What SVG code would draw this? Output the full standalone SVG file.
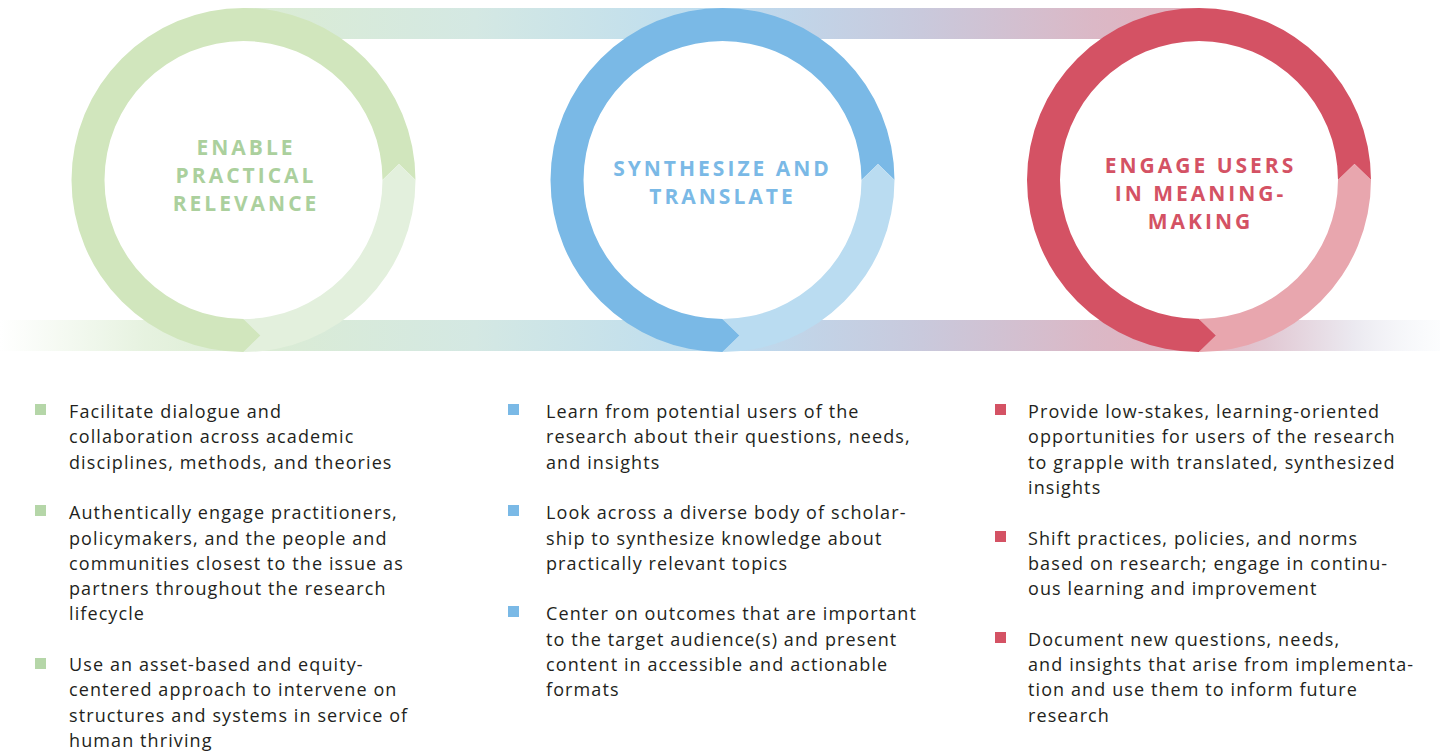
<svg xmlns="http://www.w3.org/2000/svg" width="1440" height="751" viewBox="0 0 1440 751">
<defs>
<linearGradient id="band" gradientUnits="userSpaceOnUse" x1="0" y1="0" x2="1440" y2="0">
<stop offset="0" stop-color="#e2f0da" stop-opacity="0"/>
<stop offset="0.1" stop-color="#e0efd8" stop-opacity="0.8"/>
<stop offset="0.17" stop-color="#dbecd3"/>
<stop offset="0.33" stop-color="#d4e8e3"/>
<stop offset="0.5" stop-color="#bcdcf0"/>
<stop offset="0.64" stop-color="#c9c9dc"/>
<stop offset="0.76" stop-color="#dbb8c6"/>
<stop offset="0.83" stop-color="#e2b2be"/>
<stop offset="0.88" stop-color="#e1c8d3"/>
<stop offset="0.94" stop-color="#ebe9f0"/>
<stop offset="1" stop-color="#f6f9fc" stop-opacity="0.4"/>
</linearGradient>
<style>
.head{font-family:"Open Sans","Liberation Sans",sans-serif;font-weight:700;font-size:21px;letter-spacing:3px;text-anchor:middle}
.body{font-family:"Open Sans","Liberation Sans",sans-serif;font-size:18px;letter-spacing:1.1px;fill:#231f20}
.g{fill:#abd09d}.b{fill:#7ab9e6}.r{fill:#d45264}
.gb{fill:#b5d6a8}
</style>
</defs>
<g id="connectors">
<rect x="243" y="8" width="956" height="31" fill="url(#band)"/>
<rect x="0" y="320" width="1440" height="31" fill="url(#band)"/>
</g>
<g id="node-enable">
<path d="M415.5,180 A172,172 0 1 0 243.5,352 L260.5,335.5 L243.5,319 A139,139 0 1 1 382.5,180 L399,164 Z" fill="#d1e6bd"/>
<path d="M415.5,180 A172,172 0 0 1 243.5,352 L260.5,335.5 L243.5,319 A139,139 0 0 0 382.5,180 L399,164 Z" fill="#e3f0dd"/>
<text class="head g" x="246" y="155">ENABLE</text>
<text class="head g" x="246" y="183">PRACTICAL</text>
<text class="head g" x="246" y="211">RELEVANCE</text>
</g>
<g id="node-synthesize">
<path d="M894.5,180 A172,172 0 1 0 722.5,352 L739.5,335.5 L722.5,319 A139,139 0 1 1 861.5,180 L878,164 Z" fill="#7ab9e6"/>
<path d="M894.5,180 A172,172 0 0 1 722.5,352 L739.5,335.5 L722.5,319 A139,139 0 0 0 861.5,180 L878,164 Z" fill="#badcf1"/>
<text class="head b" x="722.5" y="176">SYNTHESIZE AND</text>
<text class="head b" x="722.5" y="204">TRANSLATE</text>
</g>
<g id="node-engage">
<path d="M1371,180 A172,172 0 1 0 1199,352 L1216,335.5 L1199,319 A139,139 0 1 1 1338,180 L1354.5,164 Z" fill="#d45264"/>
<path d="M1371,180 A172,172 0 0 1 1199,352 L1216,335.5 L1199,319 A139,139 0 0 0 1338,180 L1354.5,164 Z" fill="#e8a6ae"/>
<text class="head r" x="1200.5" y="173">ENGAGE USERS</text>
<text class="head r" x="1200.5" y="201">IN MEANING-</text>
<text class="head r" x="1200.5" y="229">MAKING</text>
</g>
<g id="list-enable">
<rect class="gb" x="35" y="404" width="11" height="11"/>
<rect class="gb" x="35" y="505" width="11" height="11"/>
<rect class="gb" x="35" y="658" width="11" height="11"/>
<text class="body"><tspan x="69" y="418">Facilitate dialogue and</tspan><tspan x="69" y="443.3">collaboration across academic</tspan><tspan x="69" y="468.6">disciplines, methods, and theories</tspan></text>
<text class="body"><tspan x="69" y="519.2">Authentically engage practitioners,</tspan><tspan x="69" y="544.5">policymakers, and the people and</tspan><tspan x="69" y="569.8">communities closest to the issue as</tspan><tspan x="69" y="595.1">partners throughout the research</tspan><tspan x="69" y="620.4">lifecycle</tspan></text>
<text class="body"><tspan x="69" y="671">Use an asset-based and equity-</tspan><tspan x="69" y="696.3">centered approach to intervene on</tspan><tspan x="69" y="721.6">structures and systems in service of</tspan><tspan x="69" y="746.9">human thriving</tspan></text>
</g>
<g id="list-synthesize">
<rect class="b" x="508" y="404" width="11" height="11"/>
<rect class="b" x="508" y="505" width="11" height="11"/>
<rect class="b" x="508" y="606" width="11" height="11"/>
<text class="body"><tspan x="546" y="418">Learn from potential users of the</tspan><tspan x="546" y="443.3">research about their questions, needs,</tspan><tspan x="546" y="468.6">and insights</tspan></text>
<text class="body"><tspan x="546" y="519.2">Look across a diverse body of scholar-</tspan><tspan x="546" y="544.5">ship to synthesize knowledge about</tspan><tspan x="546" y="569.8">practically relevant topics</tspan></text>
<text class="body"><tspan x="546" y="620.4">Center on outcomes that are important</tspan><tspan x="546" y="645.7">to the target audience(s) and present</tspan><tspan x="546" y="671">content in accessible and actionable</tspan><tspan x="546" y="696.3">formats</tspan></text>
</g>
<g id="list-engage">
<rect class="r" x="995" y="404" width="11" height="11"/>
<rect class="r" x="995" y="531" width="11" height="11"/>
<rect class="r" x="995" y="632" width="11" height="11"/>
<text class="body"><tspan x="1028" y="418">Provide low-stakes, learning-oriented</tspan><tspan x="1028" y="443.3">opportunities for users of the research</tspan><tspan x="1028" y="468.6">to grapple with translated, synthesized</tspan><tspan x="1028" y="493.9">insights</tspan></text>
<text class="body"><tspan x="1028" y="544.5">Shift practices, policies, and norms</tspan><tspan x="1028" y="569.8">based on research; engage in continu-</tspan><tspan x="1028" y="595.1">ous learning and improvement</tspan></text>
<text class="body"><tspan x="1028" y="645.7">Document new questions, needs,</tspan><tspan x="1028" y="671">and insights that arise from implementa-</tspan><tspan x="1028" y="696.3">tion and use them to inform future</tspan><tspan x="1028" y="721.6">research</tspan></text>
</g>
</svg>
